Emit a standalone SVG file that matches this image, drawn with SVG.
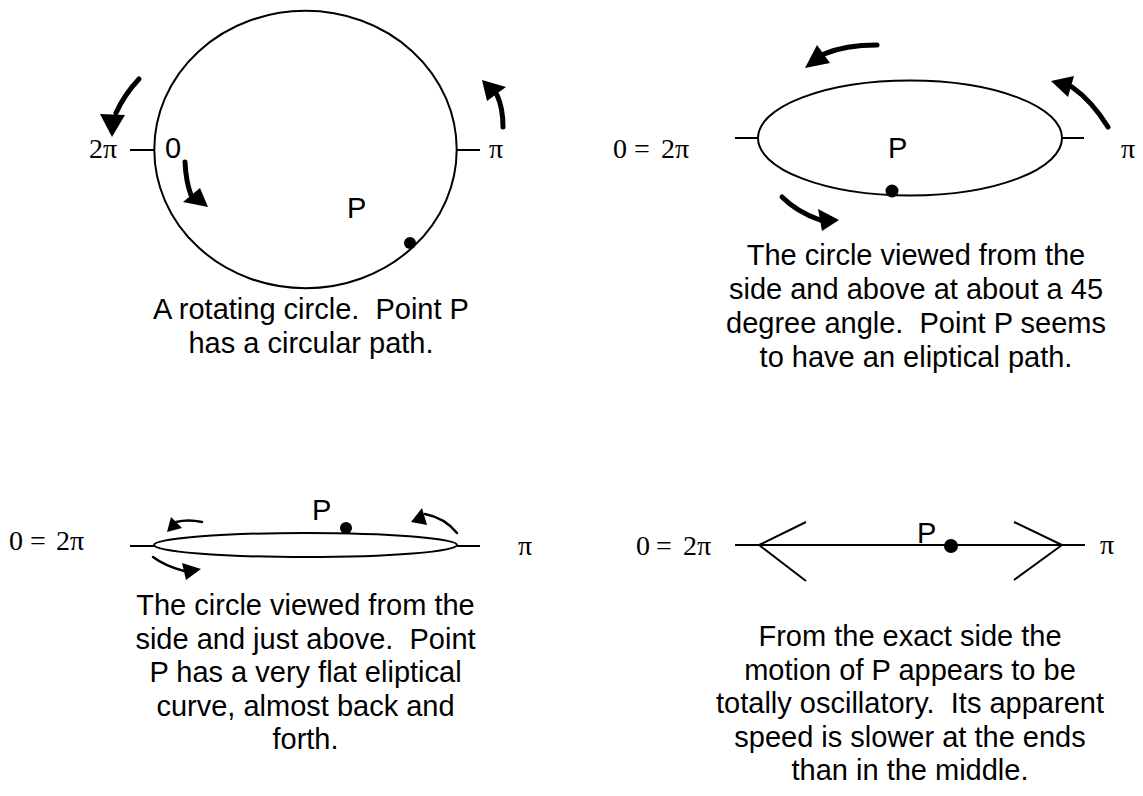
<svg xmlns="http://www.w3.org/2000/svg" width="1143" height="796" viewBox="0 0 1143 796">
<style>
.shape{fill:none;stroke:#000;stroke-width:2}
.thick{fill:none;stroke:#000;stroke-width:5;stroke-linecap:round}
.thin{fill:none;stroke:#000;stroke-width:2.5;stroke-linecap:round}
.head{fill:#000;stroke:none}
.dot{fill:#000}
.sans{font-family:"Liberation Sans",Arial,sans-serif;font-size:29px;fill:#000}
.cap{font-family:"Liberation Sans",Arial,sans-serif;font-size:29px;fill:#000;text-anchor:middle}
.math{font-family:"Liberation Serif","Times New Roman",serif;font-size:28px;fill:#000}
</style>
<rect width="1143" height="796" fill="#fff"/>

<g id="view1">
  <ellipse class="shape" cx="305.5" cy="149.5" rx="151.2" ry="138.7"/>
  <line class="shape" x1="130" y1="150" x2="154" y2="150"/>
  <line class="shape" x1="457" y1="150" x2="480" y2="150"/>
  <text class="math" x="89" y="158">2π</text>
  <text class="math" x="489" y="158">π</text>
  <text class="sans" x="165" y="158">0</text>
  <text class="sans" x="347" y="218">P</text>
  <circle class="dot" cx="410" cy="243" r="6"/>
  <text class="cap" xml:space="preserve"><tspan x="311" y="319">A rotating circle.  Point P</tspan><tspan x="311" y="353">has a circular path.</tspan></text>
</g>

<g id="view2">
  <ellipse class="shape" cx="910" cy="138" rx="152" ry="57.5"/>
  <line class="shape" x1="735" y1="138" x2="758" y2="138"/>
  <line class="shape" x1="1062" y1="138" x2="1084" y2="138"/>
  <text class="math" y="158"><tspan x="613">0</tspan><tspan x="634">=</tspan><tspan x="661">2π</tspan></text>
  <text class="math" x="1121" y="158">π</text>
  <text class="sans" x="888" y="158">P</text>
  <circle class="dot" cx="892" cy="191" r="6.5"/>
  <text class="cap" xml:space="preserve"><tspan x="916" y="265">The circle viewed from the</tspan><tspan x="916" y="299">side and above at about a 45</tspan><tspan x="916" y="333">degree angle.  Point P seems</tspan><tspan x="916" y="367">to have an eliptical path.</tspan></text>
</g>

<g id="view3">
  <ellipse class="shape" cx="305.5" cy="545" rx="151.5" ry="12"/>
  <line class="shape" x1="130" y1="546" x2="154" y2="546"/>
  <line class="shape" x1="457" y1="546" x2="480" y2="546"/>
  <text class="math" y="550"><tspan x="9">0</tspan><tspan x="30">=</tspan><tspan x="56">2π</tspan></text>
  <text class="math" x="518" y="555">π</text>
  <text class="sans" x="312" y="520">P</text>
  <circle class="dot" cx="346" cy="528" r="6"/>
  <text class="cap" xml:space="preserve"><tspan x="305.5" y="615">The circle viewed from the</tspan><tspan x="305.5" y="649">side and just above.  Point</tspan><tspan x="305.5" y="682">P has a very flat eliptical</tspan><tspan x="305.5" y="716">curve, almost back and</tspan><tspan x="305.5" y="749">forth.</tspan></text>
</g>

<g id="view4">
  <line class="shape" x1="735" y1="545" x2="1085" y2="545"/>
  <polyline class="shape" points="806,522 759,545 806,581"/>
  <polyline class="shape" points="1014,522 1062,545 1014,580"/>
  <text class="math" y="555"><tspan x="636">0</tspan><tspan x="656">=</tspan><tspan x="683">2π</tspan></text>
  <text class="math" x="1100" y="554">π</text>
  <text class="sans" x="917" y="543">P</text>
  <circle class="dot" cx="951" cy="546" r="7"/>
  <text class="cap" xml:space="preserve"><tspan x="910" y="646">From the exact side the</tspan><tspan x="910" y="680">motion of P appears to be</tspan><tspan x="910" y="713">totally oscillatory.  Its apparent</tspan><tspan x="910" y="747">speed is slower at the ends</tspan><tspan x="910" y="780">than in the middle.</tspan></text>
</g>

<g id="connectors">
  <path class="thick" d="M139,79 Q124,95 116,113"/>
  <polygon class="head" points="100,114 125,115 112,137"/>
  <path class="thick" d="M185,162 Q186,182 191,195"/>
  <polygon class="head" points="183,202 200,188 208,207"/>
  <path class="thick" d="M503,127 Q503,108 497,95"/>
  <polygon class="head" points="487,101 506,87 482,80"/>

  <path class="thick" d="M877,45 Q845,45 824,54"/>
  <polygon class="head" points="817,45 830,63 805,68"/>
  <path class="thick" d="M1108,127 Q1092,101 1072,87"/>
  <polygon class="head" points="1074,76 1068,97 1051,81"/>
  <path class="thick" d="M782,197 Q797,212 820,220"/>
  <polygon class="head" points="818,209 822,231 839,220"/>

  <path class="thin" d="M202,522 Q188,519 176,522"/>
  <polygon class="head" points="171,517 182,528 167,532"/>
  <path class="thin" d="M153,557 Q165,566 184,571"/>
  <polygon class="head" points="182,563 186,580 201,569"/>
  <path class="thin" d="M457,533 Q445,518 425,514"/>
  <polygon class="head" points="422,508 427,525 411,522"/>
</g>
</svg>
